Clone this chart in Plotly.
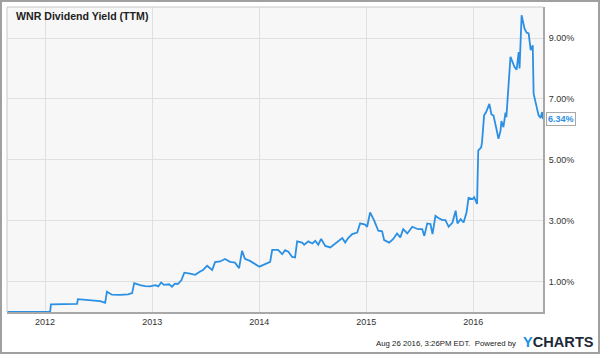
import plotly.graph_objects as go

# ---- data ----
dates = [
    "2011-08-25", "2012-01-18", "2012-01-21", "2012-04-19", "2012-04-22", "2012-05-16",
    "2012-06-09", "2012-07-07", "2012-07-24", "2012-07-30", "2012-08-16", "2012-09-13",
    "2012-10-10", "2012-10-24", "2012-10-31", "2012-11-20", "2012-12-07", "2012-12-24",
    "2013-01-11", "2013-01-21", "2013-01-31", "2013-02-10", "2013-02-27", "2013-03-09",
    "2013-03-19", "2013-03-29", "2013-04-10", "2013-04-20", "2013-05-10", "2013-05-27",
    "2013-06-13", "2013-06-23", "2013-07-07", "2013-07-24", "2013-08-03", "2013-08-20",
    "2013-09-06", "2013-09-23", "2013-10-10", "2013-10-24", "2013-11-03", "2013-11-13",
    "2013-11-30", "2013-12-15", "2014-01-01", "2014-01-15", "2014-01-31", "2014-02-07",
    "2014-02-14", "2014-03-06", "2014-03-20", "2014-03-30", "2014-04-10", "2014-04-23",
    "2014-05-03", "2014-05-10", "2014-05-27", "2014-06-03", "2014-06-17", "2014-07-01",
    "2014-07-11", "2014-07-21", "2014-07-31", "2014-08-14", "2014-08-31", "2014-09-14",
    "2014-09-28", "2014-10-11", "2014-10-21", "2014-10-31", "2014-11-14", "2014-12-01",
    "2014-12-11", "2014-12-28", "2015-01-04", "2015-01-14", "2015-01-28", "2015-02-11",
    "2015-02-24", "2015-03-03", "2015-03-20", "2015-04-03", "2015-04-16", "2015-04-27",
    "2015-05-07", "2015-05-21", "2015-06-07", "2015-06-27", "2015-07-11", "2015-07-18",
    "2015-07-28", "2015-08-08", "2015-08-15", "2015-08-25", "2015-09-04", "2015-09-18",
    "2015-09-28", "2015-10-09", "2015-10-22", "2015-11-02", "2015-11-08", "2015-11-19",
    "2015-11-29", "2015-12-09", "2015-12-16", "2015-12-30", "2016-01-04", "2016-01-11",
    "2016-01-14", "2016-01-18", "2016-01-28", "2016-01-31", "2016-02-07", "2016-02-14",
    "2016-02-25", "2016-03-03", "2016-03-10", "2016-03-20", "2016-03-27", "2016-04-03",
    "2016-04-06", "2016-04-13", "2016-04-20", "2016-04-23", "2016-04-30", "2016-05-07",
    "2016-05-21", "2016-05-28", "2016-06-04", "2016-06-07", "2016-06-14", "2016-06-24",
    "2016-07-01", "2016-07-08", "2016-07-15", "2016-07-22", "2016-07-25", "2016-08-01",
    "2016-08-11", "2016-08-18", "2016-08-23", "2016-08-26",
]
yield_pct = [
    0.00, 0.00, 0.25, 0.27, 0.42, 0.40,
    0.40, 0.36, 0.30, 0.67, 0.57, 0.56,
    0.58, 0.62, 0.95, 0.88, 0.85, 0.84,
    0.88, 0.84, 0.97, 0.89, 0.91, 0.83,
    0.93, 0.92, 1.04, 1.29, 1.26, 1.22,
    1.33, 1.38, 1.52, 1.38, 1.64, 1.66,
    1.74, 1.65, 1.62, 1.44, 2.01, 1.75,
    1.68, 1.58, 1.49, 1.55, 1.62, 1.65,
    2.04, 2.04, 1.90, 2.03, 1.98, 1.81,
    1.79, 2.32, 2.28, 2.21, 2.32, 2.25,
    2.34, 2.21, 2.40, 2.17, 2.12, 2.23,
    2.34, 2.43, 2.28, 2.43, 2.56, 2.61,
    2.91, 2.87, 2.80, 3.27, 3.00, 2.67,
    2.65, 2.36, 2.28, 2.40, 2.58, 2.45,
    2.72, 2.58, 2.80, 2.72, 2.72, 2.50,
    2.91, 2.89, 2.56, 3.16, 3.09, 3.02,
    3.02, 2.80, 2.94, 3.33, 2.91, 3.05,
    2.94, 3.27, 3.75, 3.71, 3.77, 3.57,
    3.55, 5.30, 5.41, 5.58, 6.46, 6.57,
    6.84, 6.49, 6.46, 6.02, 5.69, 5.95,
    6.27, 6.07, 6.55, 6.40, 7.28, 8.38,
    8.05, 7.96, 8.54, 8.00, 9.75, 9.31,
    9.18, 9.15, 8.60, 8.76, 7.17, 6.84,
    6.46, 6.38, 6.57, 6.34,
]
y_ticks = [1, 3, 5, 7, 9]
y_tick_labels = ["1.00%", "3.00%", "5.00%", "7.00%", "9.00%"]
x_ticks = ["2012-01-01", "2013-01-01", "2014-01-01", "2015-01-01", "2016-01-01"]
x_tick_labels = ["2012", "2013", "2014", "2015", "2016"]
title_text = "WNR Dividend Yield (TTM)"
last_label = "6.34%"
footer_text = "Aug 26 2016, 3:26PM EDT.  Powered by"

W, H = 600, 354
L, R, T, B = 7, 57, 7, 42
PW, PH = W - L - R, H - T - B
LINE = "#2b90e3"
FONT = "Liberation Sans, Arial, sans-serif"


def px(x):
    return (x - L) / PW


def py(y):
    return (H - B - y) / PH


fig = go.Figure()
fig.add_trace(go.Scatter(
    x=dates, y=yield_pct, mode="lines",
    line=dict(color=LINE, width=1.8), hoverinfo="skip", showlegend=False,
))

fig.update_layout(
    width=W, height=H,
    margin=dict(l=L, r=R, t=T, b=B, pad=0),
    paper_bgcolor="white", plot_bgcolor="#f7f7f7",
    showlegend=False,
    font=dict(family=FONT, size=9, color="#333333"),
    xaxis=dict(
        type="date", range=["2011-08-24", "2016-08-26"],
        tickvals=x_ticks, ticktext=x_tick_labels,
        showgrid=True, gridcolor="#e0e0e0", gridwidth=1.2,
        showline=True, linecolor="#a8a8a8", linewidth=2,
        ticks="", zeroline=False, fixedrange=True,
        tickfont=dict(family=FONT, size=9, color="#333333"),
    ),
    yaxis=dict(
        side="right", range=[0, 10.02],
        tickvals=y_ticks, ticktext=y_tick_labels,
        showgrid=True, gridcolor="#e0e0e0", gridwidth=1.2,
        showline=True, linecolor="#a8a8a8", linewidth=2,
        ticks="", zeroline=False, fixedrange=True,
        ticklabelstandoff=2,
        tickfont=dict(family=FONT, size=9, color="#333333"),
    ),
)

# plot area top/left light border and outer frame
fig.add_shape(type="line", xref="paper", yref="paper", x0=0, x1=1, y0=1, y1=1,
              line=dict(color="#c8c8c8", width=1), layer="above")
fig.add_shape(type="line", xref="paper", yref="paper", x0=0, x1=0, y0=0, y1=1,
              line=dict(color="#c8c8c8", width=1), layer="above")
fig.add_shape(type="rect", xref="paper", yref="paper",
              x0=px(1), x1=px(599), y0=py(353), y1=py(1),
              line=dict(color="#a0a0a0", width=2), layer="above")

# title
fig.add_annotation(xref="paper", yref="paper", x=px(14), y=py(16.5),
                   xanchor="left", yanchor="middle", showarrow=False,
                   text="<b>" + title_text + "</b>",
                   font=dict(family=FONT, size=10.6, color="#222222"))

# last value label
fig.add_annotation(xref="paper", yref="y", x=px(546), y=yield_pct[-1],
                   xanchor="left", yanchor="middle", showarrow=False,
                   text="<b>" + last_label + "</b>",
                   font=dict(family=FONT, size=9, color=LINE),
                   bgcolor="white", bordercolor="#a8a8a8", borderwidth=1, borderpad=1)

# footer
fig.add_annotation(xref="paper", yref="paper", x=px(518), y=py(343.5),
                   xanchor="right", yanchor="middle", showarrow=False,
                   text=footer_text,
                   font=dict(family=FONT, size=7.8, color="#222222"))
fig.add_annotation(xref="paper", yref="paper", x=px(521), y=py(342),
                   xanchor="left", yanchor="middle", showarrow=False,
                   text="<b><span style='color:#1a8fe3'>Y</span>CHARTS</b>",
                   font=dict(family=FONT, size=14.6, color="#1d2a3a"))

fig.write_html("out.html")
